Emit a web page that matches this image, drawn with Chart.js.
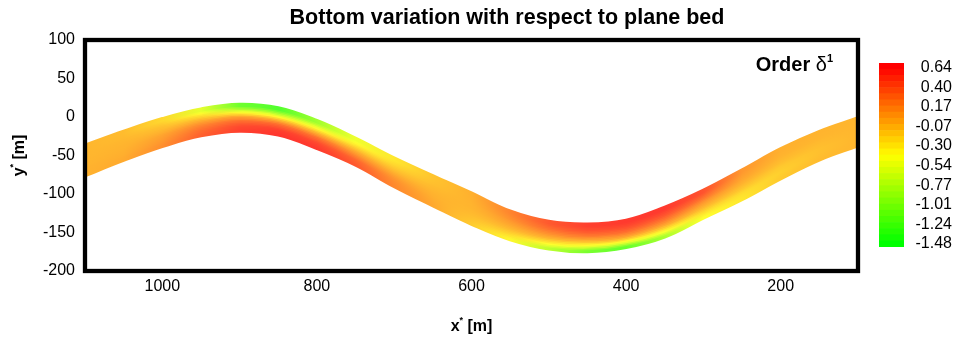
<!DOCTYPE html>
<html><head><meta charset="utf-8">
<script src="https://cdn.jsdelivr.net/npm/chart.js@4.4.0/dist/chart.umd.min.js"></script>
<style>
html,body{margin:0;padding:0;background:#fff;}
#wrap{position:relative;width:956px;height:341px;overflow:hidden;}
#main{position:absolute;left:0;top:0;}
#cbar{position:absolute;left:870px;top:50px;}
</style></head><body>
<div id="wrap"><canvas id="main" width="956" height="341"></canvas><canvas id="cbar" width="86" height="210"></canvas></div>
<script>
// ---------------- data ----------------
const stationsX = [1100,1050,1000,950,900,850,800,750,700,650,600,550,500,450,400,350,300,250,200,150,100];
const topEdgeY    = [-35.5,-17.5,-1,11.5,17.5,13,-3.5,-26.5,-52,-75,-97.5,-121,-134.5,-138,-133,-116,-94,-67.5,-40,-17.5,0];
const bottomEdgeY = [-77.5,-57.5,-39.5,-25.5,-19.5,-24.5,-42,-63.5,-91.5,-116.5,-140.5,-160.5,-172.5,-176,-170.5,-157,-132.5,-108.5,-81.5,-57,-38.5];

// bottom variation across the channel, from the top bank (first) to the bottom bank (last)
const bedStripTop    = [-0.05,-0.08,-0.22,-0.55,-1.15,-1.30,-0.90,-0.50,-0.30,-0.12,-0.02, 0.20, 0.42, 0.55, 0.58, 0.58, 0.45, 0.10,-0.02,-0.04,-0.05];
const bedStrip2      = [-0.05,-0.06,-0.12,-0.25,-0.55,-0.65,-0.45,-0.30,-0.20,-0.10,-0.03, 0.14, 0.32, 0.45, 0.48, 0.45, 0.30, 0.05,-0.04,-0.05,-0.05];
const bedStrip3      = [-0.05,-0.04,-0.04, 0.00, 0.00,-0.08,-0.03,-0.05,-0.08,-0.06,-0.04, 0.05, 0.15, 0.25, 0.30, 0.25, 0.10,-0.02,-0.08,-0.08,-0.05];
const bedStrip4      = [-0.04,-0.03, 0.05, 0.20, 0.30, 0.33, 0.30, 0.15, 0.05,-0.03,-0.06,-0.05,-0.04,-0.04, 0.02, 0.00,-0.05,-0.12,-0.15,-0.10,-0.05];
const bedStrip5      = [-0.03,-0.01, 0.10, 0.32, 0.48, 0.54, 0.50, 0.35, 0.15, 0.00,-0.10,-0.20,-0.35,-0.45,-0.45,-0.38,-0.25,-0.25,-0.18,-0.10,-0.05];
const bedStripBottom = [-0.03, 0.01, 0.15, 0.38, 0.55, 0.60, 0.58, 0.42, 0.18, 0.02,-0.15,-0.38,-0.75,-1.10,-1.20,-0.85,-0.42,-0.30,-0.15,-0.08,-0.05];

const xTickValues = [1000,800,600,400,200];
const yTickValues = [-200,-150,-100,-50,0,50,100];
const cbTickValues = [0.64,0.40,0.17,-0.07,-0.30,-0.54,-0.77,-1.01,-1.24,-1.48];
const cbTickLabels = ['0.64','0.40','0.17','-0.07','-0.30','-0.54','-0.77','-1.01','-1.24','-1.48'];

// ---------------- rendering ----------------
const FONT = "'Liberation Sans', Arial, Helvetica, sans-serif";
const CMAX = cbTickValues[0], CMIN = cbTickValues[cbTickValues.length-1];
function cmap(v, a){
  let t = (v - CMIN)/(CMAX - CMIN); t = Math.max(0, Math.min(1, t));
  let r, g; if (t < 0.5){ r = 510*t; g = 255; } else { r = 255; g = 510*(1-t); }
  const mix = c => Math.round(c*a + 255*(1-a));
  return 'rgb(' + mix(r) + ',' + mix(g) + ',' + mix(0) + ')';
}
const strips = [bedStripTop, bedStrip2, bedStrip3, bedStrip4, bedStrip5, bedStripBottom];
const nS = strips.length;
const ALPHA = 0.82;
const LANES = 20;          // drawing lanes across the channel width (shading only)

// shade value at cross position t (0 = top bank, 1 = bottom bank) for station i
function shadeAt(i, t){
  const s = t*nS - 0.5;
  if (s <= 0) return strips[0][i];
  if (s >= nS-1) return strips[nS-1][i];
  const k = Math.floor(s), f = s - k;
  return strips[k][i]*(1-f) + strips[k+1][i]*f;
}
function laneGradient(chart, t){
  const xs = chart.scales.x;
  if (!chart.chartArea || !xs) return 'rgba(0,0,0,0)';
  const p0 = xs.getPixelForValue(stationsX[0]);
  const p1 = xs.getPixelForValue(stationsX[stationsX.length-1]);
  const g = chart.ctx.createLinearGradient(p0, 0, p1, 0);
  stationsX.forEach((x,i) => {
    const f = (xs.getPixelForValue(x) - p0)/(p1 - p0);
    g.addColorStop(Math.max(0, Math.min(1, f)), cmap(shadeAt(i, t), ALPHA));
  });
  return g;
}
const datasets = [];
for (let j = 0; j < LANES; j++){
  const t = (j + 0.5)/LANES;
  datasets.push({
    data: stationsX.map((x,i) => ({x: x, y: topEdgeY[i] + (bottomEdgeY[i]-topEdgeY[i])*t})),
    fill: false,
    borderColor: c => laneGradient(c.chart, t),
    borderWidth: 2.9,
    borderCapStyle: 'butt',
    pointRadius: 0, pointHoverRadius: 0,
    tension: 0.4,
    clip: 0
  });
}

function drawParts(ctx, parts, x, y, align){
  let w = 0;
  parts.forEach(p => { ctx.font = p.font; w += ctx.measureText(p.text).width; });
  let cx = align === 'center' ? x - w/2 : (align === 'right' ? x - w : x);
  ctx.textAlign = 'left'; ctx.textBaseline = 'alphabetic';
  parts.forEach(p => { ctx.font = p.font; ctx.fillText(p.text, cx, y + (p.dy||0)); cx += ctx.measureText(p.text).width; });
}

const decor = {
  id: 'decor',
  afterDatasetsDraw(chart){
    const {ctx, chartArea: a} = chart;
    ctx.save();
    ctx.strokeStyle = '#000'; ctx.lineWidth = 4.3;
    ctx.strokeRect(a.left, a.top, a.right - a.left, a.bottom - a.top);
    ctx.restore();
  },
  afterDraw(chart){
    const {ctx, chartArea: a} = chart;
    ctx.save();
    ctx.fillStyle = '#000';
    drawParts(ctx, [{text:'Bottom variation with respect to plane bed', font:'bold 21.5px ' + FONT}], 507, 24, 'center');
    drawParts(ctx, [{text:'Order ', font:'bold 20px ' + FONT},{text:'\u03B4', font:'20px ' + FONT},{text:'1', font:'bold 11px ' + FONT, dy:-9}], 833, 71, 'right');
    const cxm = (a.left + a.right)/2;
    drawParts(ctx, [{text:'x', font:'bold 16px ' + FONT},{text:'*', font:'bold 9px ' + FONT, dy:-8},{text:' [m]', font:'bold 16px ' + FONT}], cxm, 331, 'center');
    ctx.translate(24, (a.top + a.bottom)/2);
    ctx.rotate(-Math.PI/2);
    drawParts(ctx, [{text:'y', font:'bold 16px ' + FONT},{text:'*', font:'bold 9px ' + FONT, dy:-8},{text:' [m]', font:'bold 16px ' + FONT}], 0, 0, 'center');
    ctx.restore();
  }
};

new Chart(document.getElementById('main'), {
  type: 'line',
  data: { datasets: datasets },
  options: {
    responsive: false, animation: false, devicePixelRatio: 1,
    layout: { padding: { top: 40, right: 98, left: 0, bottom: 0 } },
    plugins: { legend: {display:false}, tooltip: {enabled:false}, title: {display:false} },
    scales: {
      x: {
        type: 'linear', reverse: true, min: 100, max: 1100,
        grid: { display: false, drawTicks: false }, border: { display: false },
        ticks: { font: { family: FONT, size: 16 }, color: '#000', padding: 6, maxRotation: 0, autoSkip: false,
                 callback: v => String(v) },
        afterBuildTicks: s => { s.ticks = xTickValues.map(v => ({value: v})); },
        afterFit: s => { s.height = 70; }
      },
      y: {
        type: 'linear', min: -200, max: 100,
        grid: { display: false, drawTicks: false }, border: { display: false },
        ticks: { font: { family: FONT, size: 16 }, color: '#000', padding: 10, autoSkip: false,
                 callback: v => String(v) },
        afterBuildTicks: s => { s.ticks = yTickValues.map(v => ({value: v})); },
        afterFit: s => { s.width = 85; }
      }
    }
  },
  plugins: [decor]
});

// ---------------- colour bar ----------------
const CB_LEVELS = 30;
const cbLo = CMIN - 0.035, cbHi = CMAX + 0.06;
const cbSets = [];
for (let i = 0; i < CB_LEVELS; i++){
  const lo = cbLo + (cbHi - cbLo)*i/CB_LEVELS, hi = cbLo + (cbHi - cbLo)*(i+1)/CB_LEVELS;
  cbSets.push({ data: [[lo, hi]], backgroundColor: cmap((lo+hi)/2, 1), borderWidth: 0, barPercentage: 1, categoryPercentage: 1 });
}
new Chart(document.getElementById('cbar'), {
  type: 'bar',
  data: { labels: ['c'], datasets: cbSets },
  options: {
    responsive: false, animation: false, devicePixelRatio: 1,
    layout: { padding: { left: 9, top: 13, bottom: 13, right: 4 } },
    plugins: { legend: {display:false}, tooltip: {enabled:false} },
    scales: {
      x: { display: false, stacked: true },
      y: {
        position: 'right', min: cbLo, max: cbHi,
        grid: { display: false, drawTicks: false }, border: { display: false },
        ticks: { font: { family: FONT, size: 16 }, color: '#000', crossAlign: 'far', autoSkip: false,
                 callback: (v, i) => cbTickLabels[i] },
        afterBuildTicks: s => { s.ticks = cbTickValues.map(v => ({value: v})); },
        afterFit: s => { s.width = 48; }
      }
    }
  }
});
</script>
</body></html>
